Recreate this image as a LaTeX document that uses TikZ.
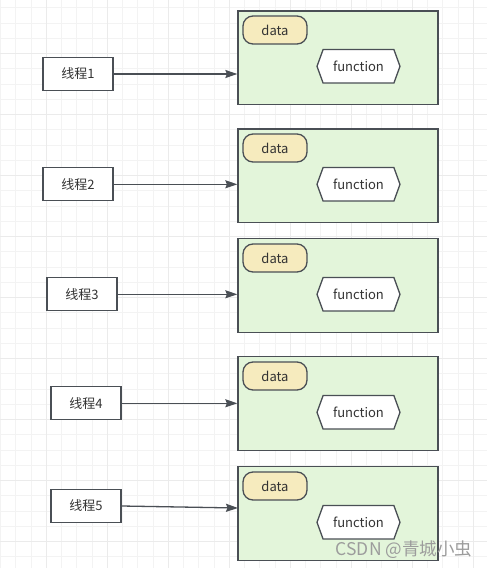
\documentclass[tikz,border=0pt]{standalone}
\usepackage{fontspec}
\setmainfont{Noto Sans CJK SC}
\usetikzlibrary{shapes.symbols,arrows.meta}
\definecolor{gridminor}{HTML}{F3F3F3}
\definecolor{gridmajor}{HTML}{EBEBEB}
\definecolor{strokec}{HTML}{4A4F55}
\definecolor{greenfill}{HTML}{E3F5DA}
\definecolor{datafill}{HTML}{F6EBBE}
\definecolor{textc}{HTML}{333333}
\definecolor{wmark}{HTML}{9C9C9C}
\tikzset{
  threadbox/.style={draw=strokec, line width=1.3pt, fill=white, minimum width=70pt, minimum height=33pt, inner sep=0pt, text=textc, font=\fontsize{13}{15}\selectfont},
  objbox/.style={draw=strokec, line width=1.3pt, fill=greenfill, minimum width=200pt, minimum height=93.5pt, inner sep=0pt},
  datapill/.style={draw=strokec, line width=1.3pt, fill=datafill, rounded corners=10pt, minimum width=64pt, minimum height=28pt, inner sep=0pt, text=textc, font=\fontsize{13}{15}\selectfont},
  funchex/.style={draw=strokec, line width=1.3pt, fill=white, signal, signal to=east and west, signal pointer angle=140, minimum width=83pt, minimum height=33.5pt, inner sep=0pt, text=textc, font=\fontsize{13}{15}\selectfont},
  conn/.style={draw=strokec, line width=1.3pt, -{Stealth[length=12pt,width=8pt,inset=1.5pt]}},
}
\begin{document}
\begin{tikzpicture}[x=1pt,y=-1pt]
\useasboundingbox (0,0) rectangle (487,568);
\fill[white] (0,0) rectangle (487,568);
% grid
\foreach \i in {0,...,31}{
  \pgfmathsetmacro{\gx}{0.55+15.25*\i}
  \draw[gridminor, line width=0.9pt] (\gx,0) -- (\gx,568);
}
\foreach \j in {0,...,36}{
  \pgfmathsetmacro{\gy}{7.75+15.25*\j}
  \draw[gridminor, line width=0.9pt] (0,\gy) -- (487,\gy);
}
\foreach \i in {3,7,...,31}{
  \pgfmathsetmacro{\gx}{0.55+15.25*\i}
  \draw[gridmajor, line width=1.2pt] (\gx,0) -- (\gx,568);
}
\foreach \j in {3,7,...,35}{
  \pgfmathsetmacro{\gy}{7.75+15.25*\j}
  \draw[gridmajor, line width=1.2pt] (0,\gy) -- (487,\gy);
}
% object boxes
\node[objbox] (b1) at (338,57.6) {};
\node[objbox] (b2) at (338,175.6) {};
\node[objbox] (b3) at (338,285.5) {};
\node[objbox] (b4) at (338,403.5) {};
\node[objbox] (b5) at (338,513.5) {};
% data
\node[datapill] (d1) at (275,30) {data};
\node[datapill] (d2) at (275,148) {data};
\node[datapill] (d3) at (275,258) {data};
\node[datapill] (d4) at (275,376) {data};
\node[datapill] (d5) at (275,486) {data};
% functions
\node[funchex] (f1) at (358.5,66.3) {function};
\node[funchex] (f2) at (358.5,184.3) {function};
\node[funchex] (f3) at (358.5,294.3) {function};
\node[funchex] (f4) at (358.5,412.3) {function};
\node[funchex] (f5) at (358.5,522.3) {function};
% threads
\node[threadbox] (t1) at (78,74) {线程1};
\node[threadbox] (t2) at (78,184.3) {线程2};
\node[threadbox] (t3) at (82,294.3) {线程3};
\node[threadbox] (t4) at (86,403.3) {线程4};
\node[threadbox] (t5) at (86,506) {线程5};
% connectors
\draw[conn] (t1.east) -- (t1.east -| b1.west);
\draw[conn] (t2.east) -- (t2.east -| b2.west);
\draw[conn] (t3.east) -- (t3.east -| b3.west);
\draw[conn] (t4.east) -- (t4.east -| b4.west);
\coordinate (e5) at (238,508);
\draw[conn] (t5.east) -- (e5);
% watermark
\node[text=wmark, font=\fontsize{17.5}{20}\selectfont, inner sep=0pt] (wm) at (404,550) {CSDN @青城小虫};
\end{tikzpicture}
\end{document}
